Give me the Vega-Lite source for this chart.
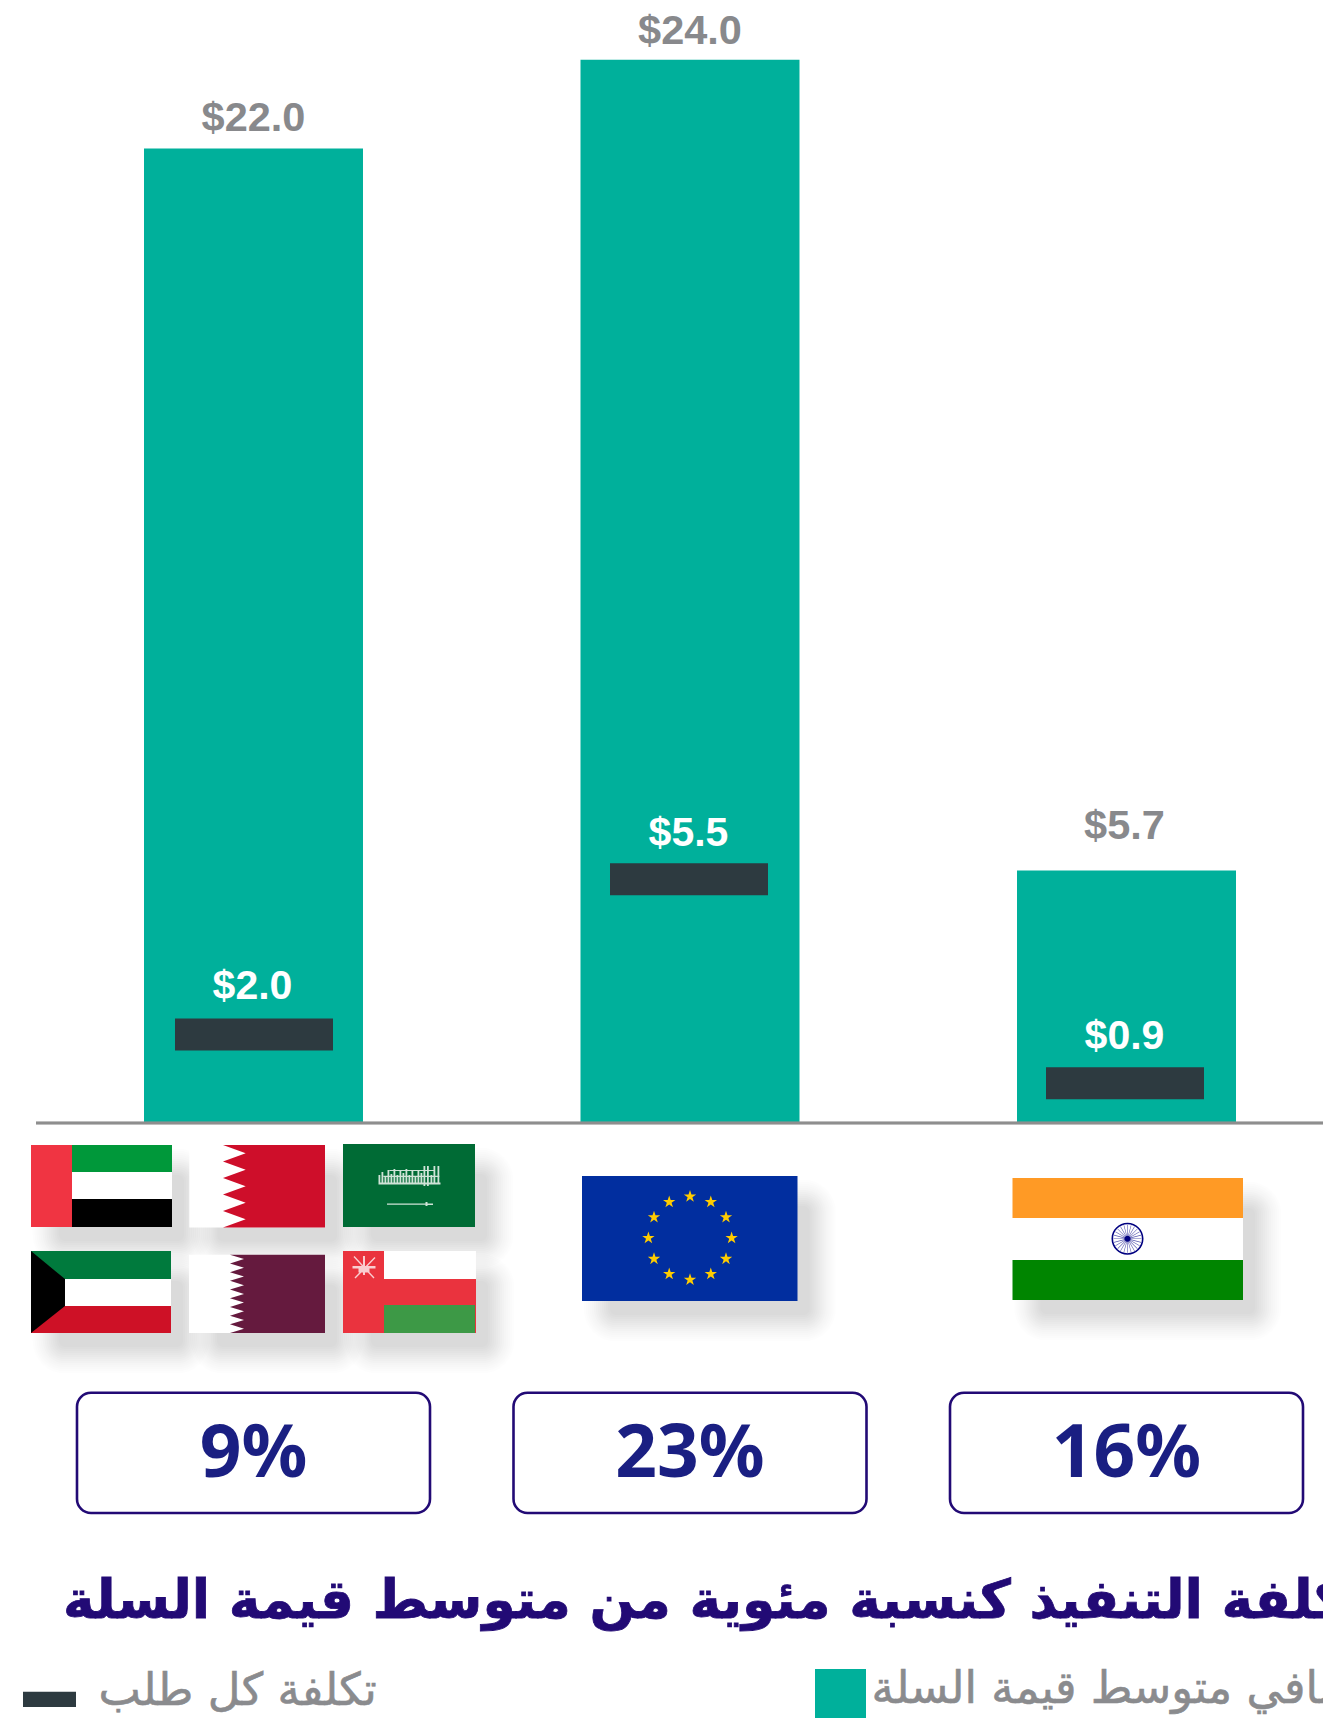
{"$schema":"https://vega.github.io/schema/vega-lite/v6.json","width":1323,"height":1718,"autosize":{"type":"none"},"padding":0,"background":"#ffffff","config":{"view":{"stroke":null},"axis":{"disable":true},"legend":{"disable":true}},
"datasets":{
"markets":[{"market":"GCC","basket":22.0,"cost":2.0,"share":0.09},{"market":"EU","basket":24.0,"cost":5.5,"share":0.23},{"market":"India","basket":5.7,"cost":0.9,"share":0.16}],
"headline":[{"market":"GCC","label":"تكلفة التنفيذ كنسبة مئوية من متوسط قيمة السلة"}],
"legendCost":[{"market":"GCC","label":"تكلفة كل طلب"}],
"legendBasket":[{"market":"EU","label":"صافي متوسط قيمة السلة"}],
"flagShadows":[{"market":"GCC","part":"sh-uae"},{"market":"GCC","part":"sh-bh"},{"market":"GCC","part":"sh-sa"},{"market":"GCC","part":"sh-kw"},{"market":"GCC","part":"sh-qa"},{"market":"GCC","part":"sh-om"},{"market":"EU","part":"sh-eu"},{"market":"India","part":"sh-in"}],
"flagParts":[{"market":"GCC","part":"uae-red"},{"market":"GCC","part":"uae-green"},{"market":"GCC","part":"uae-white"},{"market":"GCC","part":"uae-black"},{"market":"GCC","part":"bh-white"},{"market":"GCC","part":"bh-red"},{"market":"GCC","part":"sa-green"},{"market":"GCC","part":"sa-script"},{"market":"GCC","part":"sa-sword"},{"market":"GCC","part":"kw-green"},{"market":"GCC","part":"kw-white"},{"market":"GCC","part":"kw-red"},{"market":"GCC","part":"kw-black"},{"market":"GCC","part":"qa-white"},{"market":"GCC","part":"qa-maroon"},{"market":"GCC","part":"om-red"},{"market":"GCC","part":"om-white"},{"market":"GCC","part":"om-green"},{"market":"GCC","part":"om-emblem"},{"market":"EU","part":"eu-blue"},{"market":"EU","part":"eu-stars"},{"market":"India","part":"in-orange"},{"market":"India","part":"in-white"},{"market":"India","part":"in-green"},{"market":"India","part":"in-spokes"},{"market":"India","part":"in-chakra"}]
},
"data":{"name":"markets"},
"encoding":{"x":{"field":"market","type":"nominal","sort":null,"scale":{"domain":["GCC","EU","India"],"range":[144,1236],"paddingInner":0.4983,"paddingOuter":0}}},
"layer":[
{"mark":{"type":"bar","color":"#00b09b"},"encoding":{"y":{"field":"basket","type":"quantitative","stack":null,"scale":{"domain":[-13.431,25.35],"nice":false,"zero":false}}}},
{"transform":[{"filter":"datum.market==='GCC'"}],"mark":{"type":"tick","color":"#2d3a40","size":158,"thickness":32,"opacity":1,"xOffset":0.5},"encoding":{"y":{"field":"cost","type":"quantitative"}}},
{"transform":[{"filter":"datum.market==='EU'"}],"mark":{"type":"tick","color":"#2d3a40","size":158,"thickness":32,"opacity":1,"xOffset":-1},"encoding":{"y":{"field":"cost","type":"quantitative"}}},
{"transform":[{"filter":"datum.market==='India'"}],"mark":{"type":"tick","color":"#2d3a40","size":158,"thickness":32,"opacity":1,"xOffset":-1.5},"encoding":{"y":{"field":"cost","type":"quantitative"}}},
{"transform":[{"filter":"datum.market==='GCC'"}],"mark":{"type":"text","font":"Liberation Sans","fontWeight":"bold","fontSize":41.5,"color":"#88898c","baseline":"alphabetic","dy":-17},"encoding":{"y":{"field":"basket","type":"quantitative"},"text":{"field":"basket","type":"quantitative","format":"$.1f"}}},
{"transform":[{"filter":"datum.market==='EU'"}],"mark":{"type":"text","font":"Liberation Sans","fontWeight":"bold","fontSize":41.5,"color":"#88898c","baseline":"alphabetic","dy":-16},"encoding":{"y":{"field":"basket","type":"quantitative"},"text":{"field":"basket","type":"quantitative","format":"$.1f"}}},
{"transform":[{"filter":"datum.market==='India'"}],"mark":{"type":"text","font":"Liberation Sans","fontWeight":"bold","fontSize":41.5,"color":"#88898c","baseline":"alphabetic","dy":-31,"dx":-2},"encoding":{"y":{"field":"basket","type":"quantitative"},"text":{"field":"basket","type":"quantitative","format":"$.1f"}}},
{"transform":[{"filter":"datum.market==='GCC'"}],"mark":{"type":"text","font":"Liberation Sans","fontWeight":"bold","fontSize":41,"color":"#ffffff","baseline":"alphabetic","dy":-35,"dx":-1},"encoding":{"y":{"field":"cost","type":"quantitative"},"text":{"field":"cost","type":"quantitative","format":"$.1f"}}},
{"transform":[{"filter":"datum.market==='EU'"}],"mark":{"type":"text","font":"Liberation Sans","fontWeight":"bold","fontSize":41,"color":"#ffffff","baseline":"alphabetic","dy":-33,"dx":-1.5},"encoding":{"y":{"field":"cost","type":"quantitative"},"text":{"field":"cost","type":"quantitative","format":"$.1f"}}},
{"transform":[{"filter":"datum.market==='India'"}],"mark":{"type":"text","font":"Liberation Sans","fontWeight":"bold","fontSize":41,"color":"#ffffff","baseline":"alphabetic","dy":-34.5,"dx":-2},"encoding":{"y":{"field":"cost","type":"quantitative"},"text":{"field":"cost","type":"quantitative","format":"$.1f"}}},
{"mark":{"type":"rule","color":"#8e8e8e","strokeWidth":2.3,"xOffset":36},"encoding":{"x":{"value":0},"x2":{"value":1323},"y":{"datum":0}}},
{"encoding":{"x":{"field":"market","type":"nominal"},"y":{"datum":-2.62},"shape":{"field":"part","type":"nominal","scale":{
"domain":["sh-uae","sh-bh","sh-sa","sh-kw","sh-qa","sh-om","sh-eu","sh-in","uae-red","uae-green","uae-white","uae-black","bh-white","bh-red","sa-green","sa-script","sa-sword","kw-green","kw-white","kw-red","kw-black","qa-white","qa-maroon","om-red","om-white","om-green","om-emblem","eu-blue","eu-stars","in-orange","in-white","in-green","in-spokes","in-chakra"],
"range":[
"M-208.5,-80 H-95.5 V-26 H-208.5 Z",
"M-50.2,-80 H57.5 V-25.5 H-50.2 Z",
"M103.5,-81 H207.5 V-26 H103.5 Z",
"M-208.5,26 H-96.5 V80 H-208.5 Z",
"M-50.5,29.7 H57.5 V80 H-50.5 Z",
"M103.5,26 H208.5 V80 H103.5 Z",
"M-94,-49 H93.5 V48 H-94 Z",
"M-100,-47 H102.5 V47 H-100 Z",
"M-222.5,-94 H-181.5 V-12 H-222.5 Z",
"M-181.5,-94 H-81.5 V-67 H-181.5 Z",
"M-181.5,-67 H-81.5 V-40 H-181.5 Z",
"M-181.5,-40 H-81.5 V-12 H-181.5 Z",
"M-64.2,-94 H71.5 V-11.5 H-64.2 Z",
"M-30.5,-94 L-7.8,-85.75 -30.5,-77.5 -7.8,-69.25 -30.5,-61 -7.8,-52.75 -30.5,-44.5 -7.8,-36.25 -30.5,-28 -7.8,-19.75 -30.5,-11.5 L71.5,-11.5 71.5,-94 Z",
"M89.5,-95 H221.5 V-12 H89.5 Z",
"M125,-54.5 H187 V-56.5 H125 Z M130,-62 H186 V-63.2 H130 Z M136,-68 H180 V-69 H136 Z M125,-56 h1.8 v-8 h-1.8 z M128,-56 h1.8 v-11 h-1.8 z M131,-56 h1.8 v-7 h-1.8 z M134,-56 h1.8 v-13 h-1.8 z M137,-56 h1.8 v-9 h-1.8 z M140,-56 h1.8 v-14 h-1.8 z M143,-56 h1.8 v-8 h-1.8 z M146,-56 h1.8 v-12 h-1.8 z M149,-56 h1.8 v-10 h-1.8 z M152,-56 h1.8 v-14 h-1.8 z M155,-56 h1.8 v-8 h-1.8 z M158,-56 h1.8 v-12 h-1.8 z M161,-56 h1.8 v-7 h-1.8 z M164,-56 h1.8 v-13 h-1.8 z M167,-56 h1.8 v-10 h-1.8 z M170,-53 h1.8 v-20 h-1.8 z M173.5,-53 h1.8 v-20 h-1.8 z M177,-56 h1.8 v-8 h-1.8 z M180,-55 h1.8 v-18 h-1.8 z M184,-55 h1.8 v-18 h-1.8 z",
"M133.5,-35.6 H172 V-37 H174 V-35.6 H179.5 V-34 H174 V-33 H172 V-34.4 H133.5 Z",
"M-222.5,12 H-82.5 V40 H-222.5 Z",
"M-222.5,40 H-82.5 V67 H-222.5 Z",
"M-222.5,67 H-82.5 V94 H-222.5 Z",
"M-222.5,12 L-188.5,40 -188.5,67 -222.5,94 Z",
"M-64.5,15.7 H71.5 V94 H-64.5 Z",
"M-23.5,15.7 L-9.5,20.05 -23.5,24.4 -9.5,28.75 -23.5,33.1 -9.5,37.45 -23.5,41.8 -9.5,46.15 -23.5,50.5 -9.5,54.85 -23.5,59.2 -9.5,63.55 -23.5,67.9 -9.5,72.25 -23.5,76.6 -9.5,80.95 -23.5,85.3 -9.5,89.65 -23.5,94 L71.5,94 71.5,15.7 Z",
"M89.5,12 H222.5 V94 H89.5 Z",
"M130.5,12 H222.5 V40 H130.5 Z",
"M130.5,66 H221.5 V94 H130.5 Z",
"M101,38.5 L121,18 122,19 102,39.5 Z M120,39.5 L100,18 101,17 121,38.5 Z M99,27 H122 V29.5 H99 Z M109.5,17 H111.5 V36 H109.5 Z M105,28 H116 V33.5 H105 Z",
"M-108,-63 H107.5 V62 H-108 Z",
"M0,-49.1 l1.47,4.48 4.71,0.01 -3.8,2.78 1.44,4.49 -3.82,-2.76 -3.82,2.76 1.44,-4.49 -3.8,-2.78 4.71,-0.01 z M20.8,-43.5 l1.47,4.48 4.71,0.01 -3.8,2.78 1.44,4.49 -3.82,-2.76 -3.82,2.76 1.44,-4.49 -3.8,-2.78 4.71,-0.01 z M36,-28.3 l1.47,4.48 4.71,0.01 -3.8,2.78 1.44,4.49 -3.82,-2.76 -3.82,2.76 1.44,-4.49 -3.8,-2.78 4.71,-0.01 z M41.6,-7.5 l1.47,4.48 4.71,0.01 -3.8,2.78 1.44,4.49 -3.82,-2.76 -3.82,2.76 1.44,-4.49 -3.8,-2.78 4.71,-0.01 z M36,13.3 l1.47,4.48 4.71,0.01 -3.8,2.78 1.44,4.49 -3.82,-2.76 -3.82,2.76 1.44,-4.49 -3.8,-2.78 4.71,-0.01 z M20.8,28.5 l1.47,4.48 4.71,0.01 -3.8,2.78 1.44,4.49 -3.82,-2.76 -3.82,2.76 1.44,-4.49 -3.8,-2.78 4.71,-0.01 z M0,34.1 l1.47,4.48 4.71,0.01 -3.8,2.78 1.44,4.49 -3.82,-2.76 -3.82,2.76 1.44,-4.49 -3.8,-2.78 4.71,-0.01 z M-20.8,28.5 l1.47,4.48 4.71,0.01 -3.8,2.78 1.44,4.49 -3.82,-2.76 -3.82,2.76 1.44,-4.49 -3.8,-2.78 4.71,-0.01 z M-36,13.3 l1.47,4.48 4.71,0.01 -3.8,2.78 1.44,4.49 -3.82,-2.76 -3.82,2.76 1.44,-4.49 -3.8,-2.78 4.71,-0.01 z M-41.6,-7.5 l1.47,4.48 4.71,0.01 -3.8,2.78 1.44,4.49 -3.82,-2.76 -3.82,2.76 1.44,-4.49 -3.8,-2.78 4.71,-0.01 z M-36,-28.3 l1.47,4.48 4.71,0.01 -3.8,2.78 1.44,4.49 -3.82,-2.76 -3.82,2.76 1.44,-4.49 -3.8,-2.78 4.71,-0.01 z M-20.8,-43.5 l1.47,4.48 4.71,0.01 -3.8,2.78 1.44,4.49 -3.82,-2.76 -3.82,2.76 1.44,-4.49 -3.8,-2.78 4.71,-0.01 z",
"M-114,-61 H116.5 V-21 H-114 Z",
"M-114,-21 H116.5 V21 H-114 Z",
"M-114,21 H116.5 V61 H-114 Z",
"M15,0 l0,-0.6 -28,0 0,0.6 z M14.44,3.61 l0.16,-0.58 -27.04,-7.24 -0.16,0.58 z M12.97,6.96 l0.3,-0.52 -24.24,-14 -0.3,0.52 z M10.69,9.81 l0.42,-0.42 -19.8,-19.8 -0.42,0.42 z M7.74,11.97 l0.52,-0.3 -14,-24.24 -0.52,0.3 z M4.33,13.3 l0.58,-0.16 -7.24,-27.04 -0.58,0.16 z M0.7,13.7 l0.6,0 0,-28 -0.6,0 z M-2.91,13.14 l0.58,0.16 7.24,-27.04 -0.58,-0.16 z M-6.26,11.67 l0.52,0.3 14,-24.24 -0.52,-0.3 z M-9.11,9.39 l0.42,0.42 19.8,-19.8 -0.42,-0.42 z M-11.27,6.44 l0.3,0.52 24.24,-14 -0.3,-0.52 z M-12.6,3.03 l0.16,0.58 27.04,-7.24 -0.16,-0.58 z",
"M17,-0.3 A16,16 0 1,1 -15,-0.3 A16,16 0 1,1 17,-0.3 Z M15.4,-0.3 A14.4,14.4 0 1,0 -13.4,-0.3 A14.4,14.4 0 1,0 15.4,-0.3 Z M4,-0.3 A3,3 0 1,1 -2,-0.3 A3,3 0 1,1 4,-0.3 Z"
]}}},
"layer":[
{"data":{"name":"flagShadows"},"mark":{"type":"point","filled":true,"fill":"#000000","stroke":"#000000","size":4,"strokeWidth":64,"strokeJoin":"round","opacity":0.004,"xOffset":20,"yOffset":22}},
{"data":{"name":"flagShadows"},"mark":{"type":"point","filled":true,"fill":"#000000","stroke":"#000000","size":4,"strokeWidth":60,"strokeJoin":"round","opacity":0.004,"xOffset":20,"yOffset":22}},
{"data":{"name":"flagShadows"},"mark":{"type":"point","filled":true,"fill":"#000000","stroke":"#000000","size":4,"strokeWidth":56,"strokeJoin":"round","opacity":0.004,"xOffset":20,"yOffset":22}},
{"data":{"name":"flagShadows"},"mark":{"type":"point","filled":true,"fill":"#000000","stroke":"#000000","size":4,"strokeWidth":52,"strokeJoin":"round","opacity":0.004,"xOffset":20,"yOffset":22}},
{"data":{"name":"flagShadows"},"mark":{"type":"point","filled":true,"fill":"#000000","stroke":"#000000","size":4,"strokeWidth":48,"strokeJoin":"round","opacity":0.004,"xOffset":20,"yOffset":22}},
{"data":{"name":"flagShadows"},"mark":{"type":"point","filled":true,"fill":"#000000","stroke":"#000000","size":4,"strokeWidth":44,"strokeJoin":"round","opacity":0.008,"xOffset":20,"yOffset":22}},
{"data":{"name":"flagShadows"},"mark":{"type":"point","filled":true,"fill":"#000000","stroke":"#000000","size":4,"strokeWidth":40,"strokeJoin":"round","opacity":0.008,"xOffset":20,"yOffset":22}},
{"data":{"name":"flagShadows"},"mark":{"type":"point","filled":true,"fill":"#000000","stroke":"#000000","size":4,"strokeWidth":36,"strokeJoin":"round","opacity":0.008,"xOffset":20,"yOffset":22}},
{"data":{"name":"flagShadows"},"mark":{"type":"point","filled":true,"fill":"#000000","stroke":"#000000","size":4,"strokeWidth":32,"strokeJoin":"round","opacity":0.008,"xOffset":20,"yOffset":22}},
{"data":{"name":"flagShadows"},"mark":{"type":"point","filled":true,"fill":"#000000","stroke":"#000000","size":4,"strokeWidth":28,"strokeJoin":"round","opacity":0.008,"xOffset":20,"yOffset":22}},
{"data":{"name":"flagShadows"},"mark":{"type":"point","filled":true,"fill":"#000000","stroke":"#000000","size":4,"strokeWidth":24,"strokeJoin":"round","opacity":0.008,"xOffset":20,"yOffset":22}},
{"data":{"name":"flagShadows"},"mark":{"type":"point","filled":true,"fill":"#000000","stroke":"#000000","size":4,"strokeWidth":20,"strokeJoin":"round","opacity":0.008,"xOffset":20,"yOffset":22}},
{"data":{"name":"flagShadows"},"mark":{"type":"point","filled":true,"fill":"#000000","stroke":"#000000","size":4,"strokeWidth":16,"strokeJoin":"round","opacity":0.008,"xOffset":20,"yOffset":22}},
{"data":{"name":"flagShadows"},"mark":{"type":"point","filled":true,"fill":"#000000","stroke":"#000000","size":4,"strokeWidth":12,"strokeJoin":"round","opacity":0.008,"xOffset":20,"yOffset":22}},
{"data":{"name":"flagParts"},"mark":{"type":"point","filled":true,"size":4,"opacity":1,"strokeWidth":0},"encoding":{"color":{"field":"part","type":"nominal","scale":{
"domain":["uae-red","uae-green","uae-white","uae-black","bh-white","bh-red","sa-green","sa-script","sa-sword","kw-green","kw-white","kw-red","kw-black","qa-white","qa-maroon","om-red","om-white","om-green","om-emblem","eu-blue","eu-stars","in-orange","in-white","in-green","in-spokes","in-chakra"],
"range":["#f03442","#00983a","#ffffff","#000000","#ffffff","#ce0e2a","#006b35","#cfe3d7","#cfe3d7","#007a3d","#ffffff","#ce1126","#000000","#ffffff","#651a3e","#ea333e","#ffffff","#3d9946","#f9cdd0","#012e9f","#ffcc00","#ff9a25","#ffffff","#008500","#5a5ab0","#000080"]}}}}
]},
{"mark":{"type":"rect","width":353,"cornerRadius":14,"fill":"#ffffff","stroke":"#220a75","strokeWidth":2.6},"encoding":{"y":{"datum":-6.088},"y2":{"datum":-8.804}}},
{"mark":{"type":"text","font":"Noto Sans","fontWeight":"bold","fontSize":73,"color":"#1a1f82","baseline":"alphabetic"},"encoding":{"y":{"datum":-7.99},"text":{"field":"share","type":"quantitative","format":".0%"}}},
{"data":{"name":"headline"},"mark":{"type":"text","font":"DejaVu Sans","fontWeight":"bold","fontSize":53.5,"color":"#220a75","stroke":"#220a75","strokeWidth":0.8,"align":"left","baseline":"alphabetic","xOffset":-190.5},"encoding":{"y":{"datum":-11.174},"text":{"field":"label"}}},
{"data":{"name":"legendCost"},"mark":{"type":"rect","width":53,"color":"#2d3a40","xOffset":-204},"encoding":{"y":{"datum":-12.84},"y2":{"datum":-13.18}}},
{"data":{"name":"legendCost"},"mark":{"type":"text","font":"DejaVu Sans","fontSize":45,"color":"#8a8b8e","stroke":"#8a8b8e","strokeWidth":0.6,"align":"left","baseline":"alphabetic","xOffset":-155},"encoding":{"y":{"datum":-13.14},"text":{"field":"label"}}},
{"data":{"name":"legendBasket"},"mark":{"type":"rect","width":51,"color":"#00b09b","xOffset":150.5},"encoding":{"y":{"datum":-12.325},"y2":{"datum":-13.431}}},
{"data":{"name":"legendBasket"},"mark":{"type":"text","font":"DejaVu Sans","fontSize":45,"color":"#8a8b8e","stroke":"#8a8b8e","strokeWidth":0.6,"align":"left","baseline":"alphabetic","xOffset":181.5},"encoding":{"y":{"datum":-13.09},"text":{"field":"label"}}}
]}
